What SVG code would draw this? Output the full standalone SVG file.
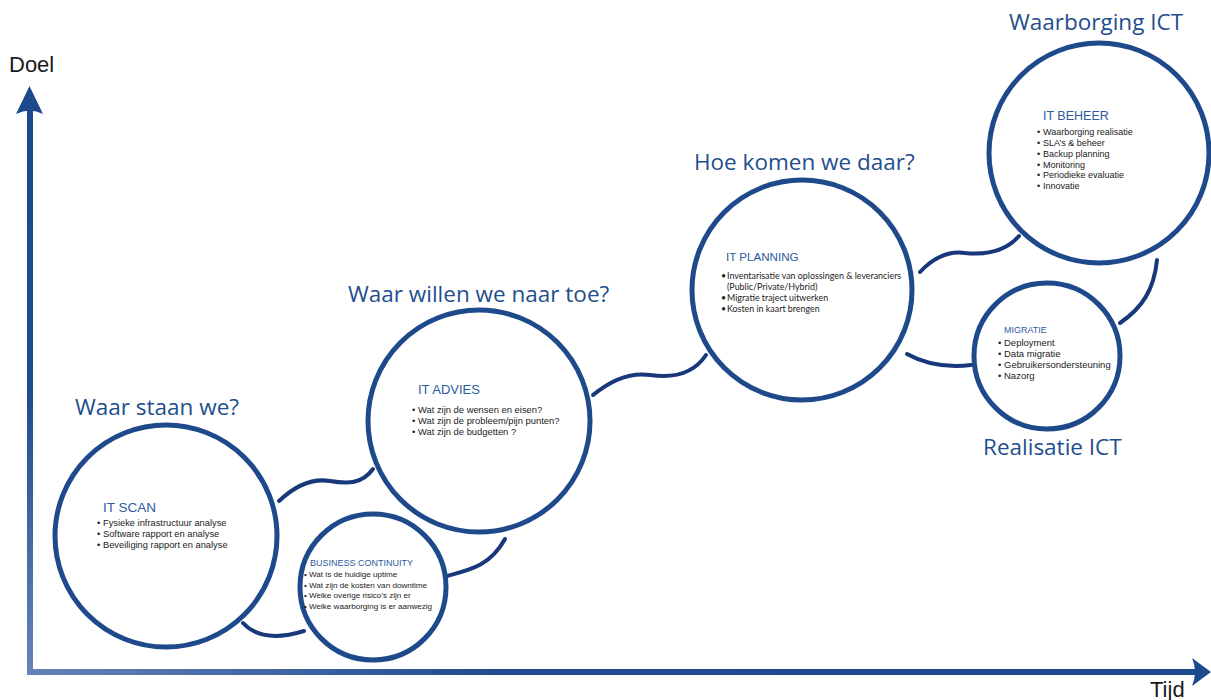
<svg xmlns="http://www.w3.org/2000/svg" width="1211" height="700" viewBox="0 0 1211 700">
<defs>
<linearGradient id="gv" x1="0" y1="1" x2="0" y2="0"><stop offset="0" stop-color="#6783b8"/><stop offset="0.5" stop-color="#1f4c8e"/><stop offset="1" stop-color="#1c4a8c"/></linearGradient>
<linearGradient id="gh" x1="0" y1="0" x2="1" y2="0"><stop offset="0" stop-color="#6783b8"/><stop offset="0.4" stop-color="#1f4c8e"/><stop offset="1" stop-color="#1c4a8c"/></linearGradient>
<style>
.c{fill:#fff;stroke:#1e4a8b;stroke-width:5}
.k{fill:none;stroke:#17387a;stroke-width:4;stroke-linecap:round}
.h{font-family:"Open Sans","Liberation Sans",sans-serif;font-size:22.5px;fill:#1f4e8c}
.ax{font-family:"Liberation Sans",Arial,sans-serif;font-size:22px;fill:#1a1a1a}
.t{font-family:"Liberation Sans",Arial,sans-serif;fill:#2d5a9e}
.b{font-family:"Liberation Sans",Arial,sans-serif;fill:#222}
.bl{font-family:Lato,"Liberation Sans",sans-serif;fill:#222}
</style>
</defs>
<rect width="1211" height="700" fill="#fff"/>
<g id="axes">
<rect x="27" y="108" width="6" height="567" fill="url(#gv)"/>
<path d="M29.5,86 L43,114 Q30,107 16,114 Z" fill="#1c4a8c"/>
<rect x="27" y="669" width="1170" height="6" fill="url(#gh)"/>
<path d="M1211,672 L1192,686 Q1198,672 1192,658 Z" fill="#1c4a8c"/>
<text class="ax" x="9" y="72">Doel</text>
<text class="ax" x="1150" y="697">Tijd</text>
</g>
<g id="headings">
<text class="h" x="75" y="415">Waar staan we?</text>
<text class="h" x="348" y="302">Waar willen we naar toe?</text>
<text class="h" x="694" y="170">Hoe komen we daar?</text>
<text class="h" x="1009" y="30">Waarborging ICT</text>
<text class="h" x="983" y="455">Realisatie ICT</text>
</g>
<g id="connectors">
<path class="k" d="M279,501 C296,485 312,478 330,481 C348,484 362,484 373,469"/>
<path class="k" d="M243,623 C255,636 275,640 304,631"/>
<path class="k" d="M447,576 C470,570 490,566 505,539"/>
<path class="k" d="M593,395 C610,381 630,372 650,375 C670,378 692,376 706,355"/>
<path class="k" d="M920,272 C935,256 950,251 965,253 C985,255 1005,252 1019,236"/>
<path class="k" d="M907,354 C925,364 945,368 971,365"/>
<path class="k" d="M1120,323 C1142,308 1154,290 1157,260"/>
</g>
<g id="it-scan">
<circle class="c" cx="166" cy="536" r="111"/>
<text class="t" x="103" y="512" font-size="13.5">IT SCAN</text>
<text class="b" font-size="9.3">
<tspan x="97" y="526">•</tspan><tspan x="103" y="526">Fysieke infrastructuur analyse</tspan>
<tspan x="97" y="537">•</tspan><tspan x="103" y="537">Software rapport en analyse</tspan>
<tspan x="97" y="548">•</tspan><tspan x="103" y="548">Beveiliging rapport en analyse</tspan>
</text>
</g>
<g id="business-continuity">
<circle class="c" cx="373" cy="587" r="73"/>
<text class="t" x="310" y="566" font-size="9">BUSINESS CONTINUITY</text>
<text class="b" font-size="8.1">
<tspan x="304" y="577">•</tspan><tspan x="309" y="577">Wat is de huidige uptime</tspan>
<tspan x="304" y="588">•</tspan><tspan x="309" y="588">Wat zijn de kosten van downtime</tspan>
<tspan x="304" y="598">•</tspan><tspan x="309" y="598">Welke overige risico’s zijn er</tspan>
<tspan x="304" y="609">•</tspan><tspan x="309" y="609">Welke waarborging is er aanwezig</tspan>
</text>
</g>
<g id="it-advies">
<circle class="c" cx="479" cy="421" r="111"/>
<text class="t" x="418" y="394" font-size="13">IT ADVIES</text>
<text class="b" font-size="9.4">
<tspan x="412" y="413">•</tspan><tspan x="418" y="413">Wat zijn de wensen en eisen?</tspan>
<tspan x="412" y="424">•</tspan><tspan x="418" y="424">Wat zijn de probleem/pijn punten?</tspan>
<tspan x="412" y="435">•</tspan><tspan x="418" y="435">Wat zijn de budgetten ?</tspan>
</text>
</g>
<g id="it-planning">
<circle class="c" cx="802" cy="290" r="110"/>
<text class="t" x="726" y="261" font-size="11.6">IT PLANNING</text>
<text class="bl" font-size="8.9">
<tspan x="721" y="279">•</tspan><tspan x="727" y="279">Inventarisatie van oplossingen &amp; leveranciers</tspan>
<tspan x="727" y="290">(Public/Private/Hybrid)</tspan>
<tspan x="721" y="301">•</tspan><tspan x="727" y="301">Migratie traject uitwerken</tspan>
<tspan x="721" y="312">•</tspan><tspan x="727" y="312">Kosten in kaart brengen</tspan>
</text>
</g>
<g id="migratie">
<circle class="c" cx="1047" cy="356" r="73"/>
<text class="t" x="1004" y="333" font-size="9">MIGRATIE</text>
<text class="b" font-size="9.5">
<tspan x="998" y="345.5">•</tspan><tspan x="1004" y="345.5">Deployment</tspan>
<tspan x="998" y="357">•</tspan><tspan x="1004" y="357">Data migratie</tspan>
<tspan x="998" y="368">•</tspan><tspan x="1004" y="368">Gebruikersondersteuning</tspan>
<tspan x="998" y="379">•</tspan><tspan x="1004" y="379">Nazorg</tspan>
</text>
</g>
<g id="it-beheer">
<circle class="c" cx="1099" cy="153" r="110"/>
<text class="t" x="1043" y="120" font-size="12.5">IT BEHEER</text>
<text class="b" font-size="9">
<tspan x="1037" y="135">•</tspan><tspan x="1043" y="135">Waarborging realisatie</tspan>
<tspan x="1037" y="146">•</tspan><tspan x="1043" y="146">SLA’s &amp; beheer</tspan>
<tspan x="1037" y="157">•</tspan><tspan x="1043" y="157">Backup planning</tspan>
<tspan x="1037" y="167.5">•</tspan><tspan x="1043" y="167.5">Monitoring</tspan>
<tspan x="1037" y="178">•</tspan><tspan x="1043" y="178">Periodieke evaluatie</tspan>
<tspan x="1037" y="189">•</tspan><tspan x="1043" y="189">Innovatie</tspan>
</text>
</g>
</svg>
